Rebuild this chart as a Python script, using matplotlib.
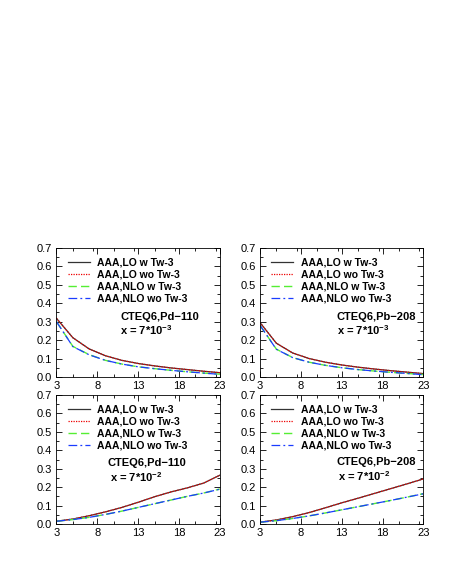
import numpy as np
import matplotlib
matplotlib.use("Agg")
import matplotlib.pyplot as plt
from matplotlib.ticker import MultipleLocator

plt.rcParams['font.family'] = ['Liberation Sans', 'DejaVu Sans']
plt.rcParams['mathtext.default'] = 'regular'

pt = [3, 5, 7, 9, 11, 13, 15, 17, 19, 21, 23]

# x = 7*10^-3
pd_lo_w_3 = [0.318, 0.213, 0.152, 0.115, 0.090, 0.073, 0.060, 0.049, 0.040, 0.031, 0.023]
pd_lo_wo_3 = [0.318, 0.213, 0.152, 0.115, 0.090, 0.073, 0.060, 0.049, 0.040, 0.031, 0.023]
pd_nlo_w_3 = [0.300, 0.166, 0.121, 0.090, 0.070, 0.055, 0.045, 0.036, 0.028, 0.021, 0.015]
pd_nlo_wo_3 = [0.300, 0.165, 0.120, 0.090, 0.070, 0.055, 0.045, 0.036, 0.028, 0.021, 0.014]

pb_lo_w_3 = [0.295, 0.183, 0.130, 0.100, 0.080, 0.065, 0.053, 0.043, 0.034, 0.026, 0.018]
pb_lo_wo_3 = [0.295, 0.183, 0.130, 0.100, 0.080, 0.065, 0.053, 0.043, 0.034, 0.026, 0.018]
pb_nlo_w_3 = [0.280, 0.151, 0.105, 0.080, 0.063, 0.050, 0.040, 0.032, 0.025, 0.019, 0.013]
pb_nlo_wo_3 = [0.280, 0.150, 0.105, 0.080, 0.063, 0.050, 0.040, 0.032, 0.025, 0.019, 0.012]

# x = 7*10^-2
pd_lo_w_2 = [0.015, 0.027, 0.045, 0.066, 0.090, 0.118, 0.148, 0.174, 0.196, 0.222, 0.265]
pd_lo_wo_2 = [0.015, 0.027, 0.045, 0.066, 0.090, 0.118, 0.148, 0.174, 0.196, 0.222, 0.265]
pd_nlo_w_2 = [0.015, 0.024, 0.036, 0.052, 0.070, 0.090, 0.110, 0.130, 0.150, 0.168, 0.190]
pd_nlo_wo_2 = [0.015, 0.024, 0.036, 0.052, 0.070, 0.090, 0.110, 0.130, 0.150, 0.168, 0.189]

pb_lo_w_2 = [0.010, 0.022, 0.040, 0.062, 0.088, 0.115, 0.140, 0.166, 0.192, 0.218, 0.245]
pb_lo_wo_2 = [0.010, 0.022, 0.040, 0.062, 0.088, 0.115, 0.140, 0.166, 0.192, 0.218, 0.245]
pb_nlo_w_2 = [0.010, 0.018, 0.030, 0.044, 0.060, 0.077, 0.094, 0.111, 0.128, 0.146, 0.165]
pb_nlo_wo_2 = [0.010, 0.018, 0.030, 0.044, 0.060, 0.077, 0.094, 0.111, 0.128, 0.146, 0.164]

labels = ["AAA,LO w Tw-3", "AAA,LO wo Tw-3", "AAA,NLO w Tw-3", "AAA,NLO wo Tw-3"]

panels = [
    ([0.122, 0.341, 0.353, 0.2255], [pd_lo_w_3, pd_lo_wo_3, pd_nlo_w_3, pd_nlo_wo_3],
     "CTEQ6,Pd\u2212110", "x = 7*10$^{-3}$", (0.39, 0.465), (0.39, 0.36)),
    ([0.5616, 0.341, 0.353, 0.2255], [pb_lo_w_3, pb_lo_wo_3, pb_nlo_w_3, pb_nlo_wo_3],
     "CTEQ6,Pb\u2212208", "x = 7*10$^{-3}$", (0.47, 0.465), (0.47, 0.36)),
    ([0.122, 0.0839, 0.353, 0.2255], [pd_lo_w_2, pd_lo_wo_2, pd_nlo_w_2, pd_nlo_wo_2],
     "CTEQ6,Pd\u2212110", "x = 7*10$^{-2}$", (0.315, 0.472), (0.327, 0.367)),
    ([0.5616, 0.0839, 0.353, 0.2255], [pb_lo_w_2, pb_lo_wo_2, pb_nlo_w_2, pb_nlo_wo_2],
     "CTEQ6,Pb\u2212208", "x = 7*10$^{-2}$", (0.47, 0.48), (0.478, 0.375)),
]

styles = [
    dict(color='#333333', ls='-', lw=0.9),
    dict(color='#ee0000', ls=(0, (1, 1)), lw=0.9),
    dict(color='#55ee33', ls=(0, (6, 3)), lw=1.0),
    dict(color='#1a3cff', ls=(0, (7, 2.5, 1.5, 2.5)), lw=0.9),
]

fig = plt.figure(figsize=(4.63, 5.72), dpi=100)

for rect, series, name, xlab, p1, p2 in panels:
    ax = fig.add_axes(rect)
    for vals, lab, st in zip(series, labels, styles):
        ax.plot(pt, vals, label=lab, **st)
    ax.set_xlim(3, 23)
    ax.set_ylim(0, 0.7)
    ax.set_xticks([3, 8, 13, 18, 23])
    ax.set_yticks(np.arange(0, 0.71, 0.1))
    ax.set_yticklabels([f"{v:.1f}" for v in np.arange(0, 0.71, 0.1)])
    ax.xaxis.set_minor_locator(MultipleLocator(2.5))
    ax.yaxis.set_minor_locator(MultipleLocator(0.05))
    ax.tick_params(which='both', direction='in', top=True, right=True,
                   labelsize=8, width=0.6, pad=3)
    ax.tick_params(which='major', length=4)
    ax.tick_params(which='minor', length=2)
    for s in ax.spines.values():
        s.set_linewidth(0.6)
    leg = ax.legend(loc='upper left', bbox_to_anchor=(0.07, 0.925), frameon=False,
                    borderpad=0, borderaxespad=0, handlelength=2.1,
                    handletextpad=0.7, labelspacing=0.18,
                    prop=dict(size=7.5, weight='bold'))
    ax.text(p1[0], p1[1], name, transform=ax.transAxes, fontsize=8,
            fontweight='bold', va='center', ha='left')
    ax.text(p2[0], p2[1], xlab, transform=ax.transAxes, fontsize=8,
            fontweight='bold', va='center', ha='left')

fig.savefig("out.png", dpi=100)
